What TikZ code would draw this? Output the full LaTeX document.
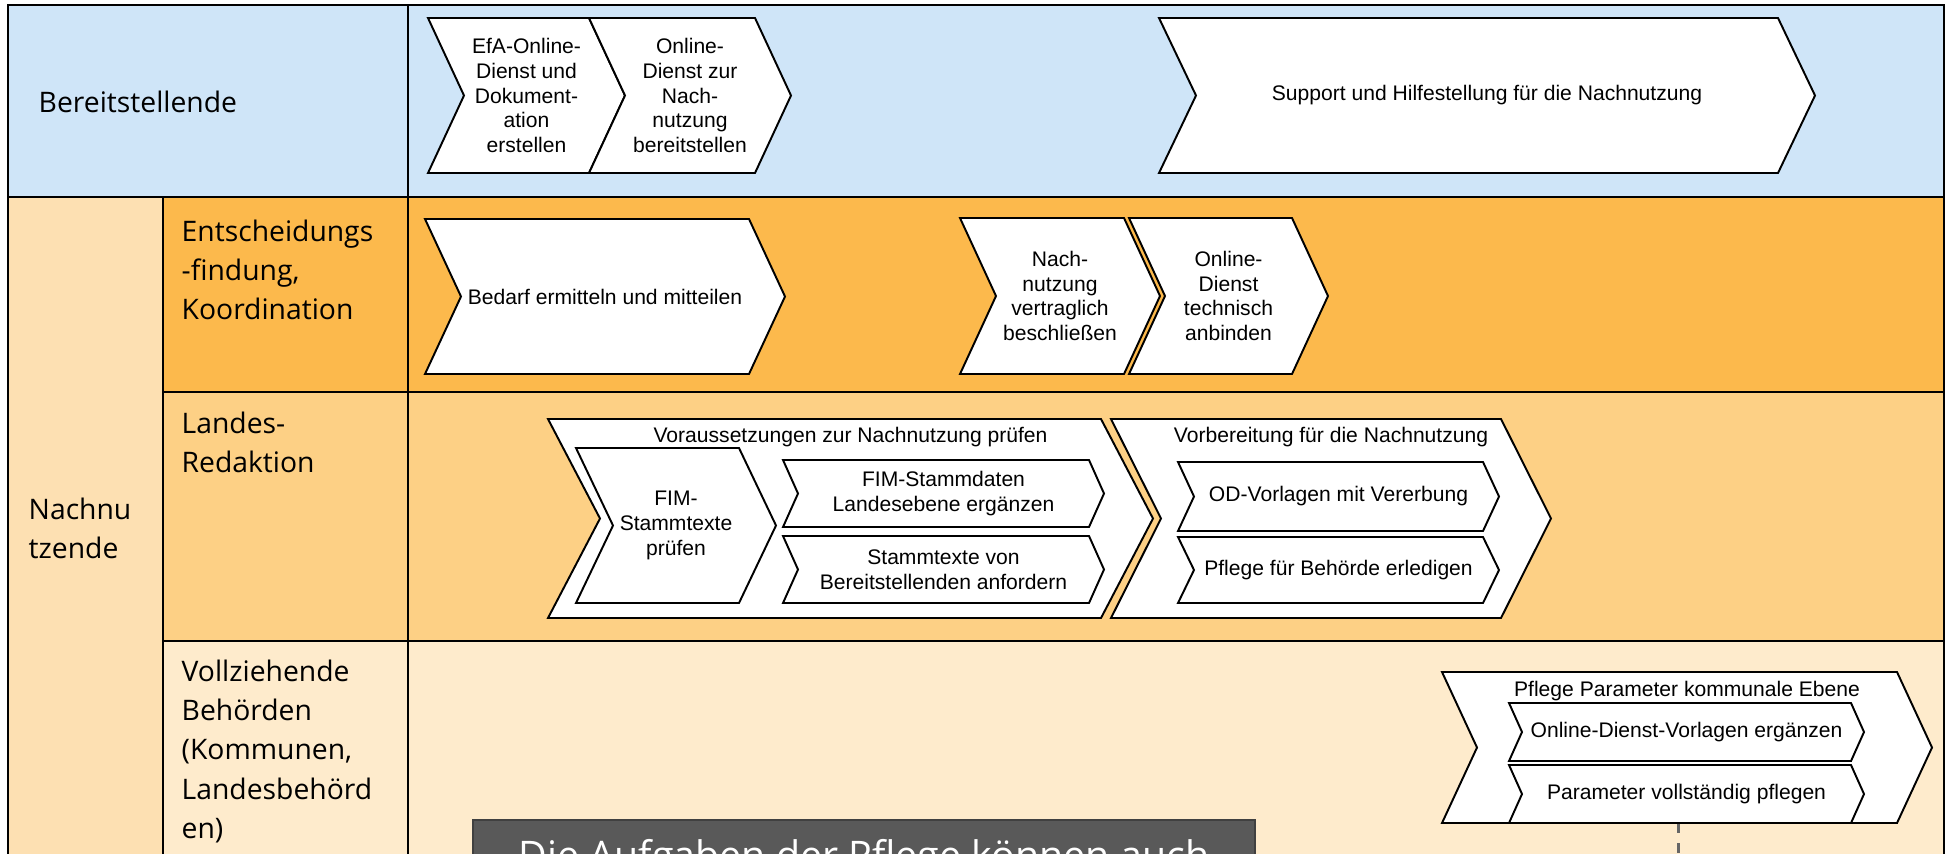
\documentclass[tikz,border=0pt]{standalone}
\usepackage{fontspec}
\setmainfont{Open Sans}
\newfontfamily\arialfont{Liberation Sans}
\usetikzlibrary{calc}

\definecolor{laneblue}{RGB}{207,229,248}
\definecolor{laneorange}{RGB}{252,185,76}
\definecolor{lanelight}{RGB}{253,208,133}
\definecolor{lanepale}{RGB}{254,235,204}
\definecolor{lanenach}{RGB}{253,224,178}
\definecolor{notegray}{RGB}{89,89,89}
\definecolor{dashgray}{RGB}{102,102,102}

\tikzset {
    grid line/.style = {line width = 0.75pt},
    lane label/.style = {
        anchor = north west,
        inner sep = 0pt,
        align = left,
        font = \fontsize{8.05}{11.2}\selectfont
    },
    chev line/.style = {draw, fill = white, line width = 0.55pt},
    chev text/.style = {
        inner sep = 0pt,
        align = center,
        font = \arialfont\fontsize{6}{7}\selectfont
    },
    chev title/.style = {chev text, anchor = north},
    note box/.style = {
        anchor = north,
        fill = notegray,
        draw = black!75,
        line width = 0.5pt,
        text = white,
        minimum width = 78.2mm,
        inner ysep = 1.9mm,
        font = \fontsize{11.2}{13.4}\selectfont
    },
    dash line/.style = {
        draw = dashgray,
        line width = 0.85pt,
        dash pattern = on 1mm off 1mm
    }
}

% chevron: name, x, y (top left), top width, height, depth, text
\newcommand{\chevbox}[7]{%
    \draw[chev line] (#2, #3) -- ++(#4, 0) -- ++(#6, #5/2) -- ++(-#6, #5/2)
        -- ++(-#4, 0) -- ++(#6, -#5/2) -- cycle;
    \node[chev text] (#1) at ({#2 + (#4 + #6)/2}, {#3 + #5/2}) {#7};
}
% chevron with its title on top
\newcommand{\chevgroup}[7]{%
    \draw[chev line] (#2, #3) -- ++(#4, 0) -- ++(#6, #5/2) -- ++(-#6, #5/2)
        -- ++(-#4, 0) -- ++(#6, -#5/2) -- cycle;
    \node[chev title] (#1) at ({#2 + (#4 + #6)/2}, {#3 + 8}) {#7};
}

\begin{document}
\begin{tikzpicture}[x = 0.1mm, y = -0.1mm]
    \useasboundingbox (0, 0) rectangle (1950, 853);
    \clip (0, 0) rectangle (1950, 853);
    \fill[white] (0, 0) rectangle (1950, 853);

    % lanes
    \fill[laneblue] (8, 5) rectangle (1944, 197);
    \fill[lanenach] (8, 197) rectangle (163, 900);
    \fill[laneorange] (163, 197) rectangle (1944, 392);
    \fill[lanelight] (163, 392) rectangle (1944, 641);
    \fill[lanepale] (163, 641) rectangle (1944, 900);

    \draw[grid line] (8, 900) -- (8, 5) -- (1944, 5) -- (1944, 900);
    \draw[grid line] (8, 197) -- (1944, 197);
    \draw[grid line] (163, 392) -- (1944, 392);
    \draw[grid line] (163, 641) -- (1944, 641);
    \draw[grid line] (408, 5) -- (408, 900);
    \draw[grid line] (163, 197) -- (163, 900);

    \node[lane label, anchor = west] (lbereit) at (38, 102) {Bereitstellende};
    \node[lane label] (lnach) at (28, 497) {Nachnu\\tzende};
    \node[lane label] (lentsch) at (181, 219) {Entscheidungs\\-findung,\\Koordination};
    \node[lane label] (llandes) at (181, 411) {Landes-\\Redaktion};
    \node[lane label] (lvollz) at (181, 659)
        {Vollziehende\\Behörden\\(Kommunen,\\Landesbehörd\\en)};

    % Bereitstellende
    \chevbox{efa}{428}{18}{161}{155}{36}{EfA-Online-\\Dienst und\\Dokument-\\ation\\erstellen}
    \chevbox{bereit}{589}{18}{166}{155}{36}{Online-\\Dienst zur\\Nach-\\nutzung\\bereitstellen}
    \chevbox{support}{1159}{18}{619}{155}{37}{Support und Hilfestellung für die Nachnutzung}

    % Entscheidungsfindung
    \chevbox{bedarf}{425}{219}{324}{155}{36}{Bedarf ermitteln und mitteilen}
    \chevbox{vertrag}{960}{218}{164}{156}{36}{Nach-\\nutzung\\vertraglich\\beschließen}
    \chevbox{anbinden}{1129}{218}{163}{156}{36}{Online-\\Dienst\\technisch\\anbinden}

    % Landes-Redaktion
    \chevgroup{voraus}{548}{419}{553}{199}{52}{Voraussetzungen zur Nachnutzung prüfen}
    \chevbox{fimtexte}{576}{448}{163}{155}{37}{FIM-\\Stammtexte\\prüfen}
    \chevbox{stammdaten}{783}{460}{306}{67}{15}{FIM-Stammdaten\\Landesebene ergänzen}
    \chevbox{anfordern}{783}{536}{306}{67}{15}{Stammtexte von\\Bereitstellenden anfordern}
    \chevgroup{vorbereitung}{1111}{419}{390}{199}{50}{Vorbereitung für die Nachnutzung}
    \chevbox{odvorlagen}{1178}{462}{305}{69}{16}{OD-Vorlagen mit Vererbung}
    \chevbox{pflegebeh}{1178}{537}{305}{66}{16}{Pflege für Behörde erledigen}

    % Vollziehende Behoerden
    \coordinate (parambot) at (1678, 823);
    \coordinate (dashend) at (1678, 900);
    \draw[dash line] (parambot) -- (dashend);
    \chevgroup{paramgruppe}{1442}{672}{455}{151}{35}{Pflege Parameter kommunale Ebene}
    \chevbox{vorlagen}{1509}{703}{342}{58}{13}{Online-Dienst-Vorlagen ergänzen}
    \chevbox{vollst}{1509}{765}{342}{58}{13}{Parameter vollständig pflegen}

    \node[note box] (hinweis) at (864, 819) {Die Aufgaben der Pflege können auch};
\end{tikzpicture}
\end{document}
